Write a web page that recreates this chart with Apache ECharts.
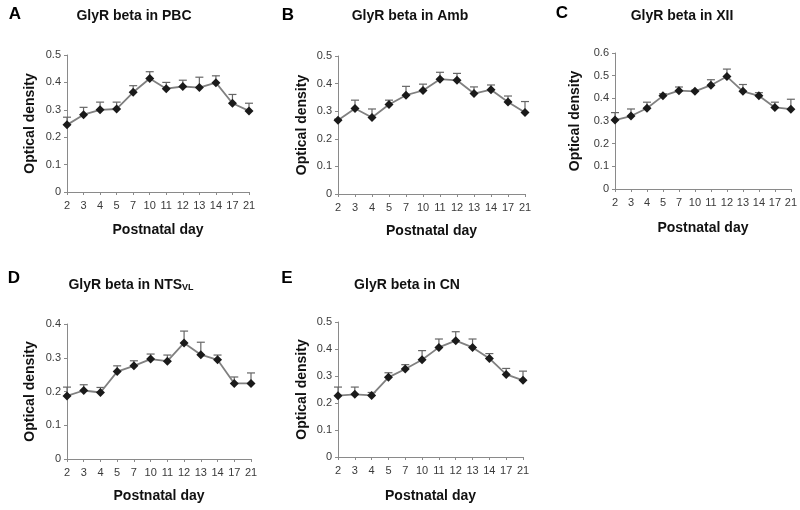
<!DOCTYPE html>
<html>
<head>
<meta charset="utf-8">
<script src="https://cdn.jsdelivr.net/npm/echarts@6/dist/echarts.min.js"></script>
<style>html,body{margin:0;padding:0;background:#fff}#c{width:800px;height:510px}</style>
</head>
<body>
<div id="c"></div>
<script>
var categories = ['2','3','4','5','7','10','11','12','13','14','17','21'];

var pbcValues = [0.245,0.282,0.300,0.303,0.364,0.414,0.377,0.385,0.381,0.399,0.324,0.296];
var pbcErrors = [0.028,0.027,0.028,0.025,0.024,0.025,0.023,0.023,0.038,0.025,0.032,0.028];

var ambValues = [0.267,0.310,0.277,0.324,0.358,0.375,0.416,0.412,0.364,0.378,0.333,0.295];
var ambErrors = [0.004,0.030,0.031,0.016,0.032,0.023,0.025,0.025,0.024,0.017,0.022,0.040];

var xiiValues = [0.304,0.322,0.356,0.411,0.434,0.431,0.458,0.496,0.431,0.411,0.360,0.352];
var xiiErrors = [0.033,0.031,0.027,0.009,0.016,0.005,0.024,0.033,0.030,0.014,0.023,0.044];

var ntsValues = [0.187,0.203,0.197,0.259,0.276,0.296,0.290,0.344,0.309,0.294,0.224,0.224];
var ntsErrors = [0.026,0.017,0.015,0.017,0.015,0.015,0.018,0.035,0.037,0.014,0.019,0.031];

var cnValues = [0.227,0.232,0.228,0.295,0.326,0.360,0.406,0.431,0.406,0.365,0.306,0.284];
var cnErrors = [0.032,0.027,0.011,0.017,0.016,0.034,0.031,0.033,0.031,0.018,0.022,0.034];

var yMaxes = [0.5, 0.5, 0.6, 0.4, 0.5];
var yInterval = 0.1;
var panelLetters = ['A','B','C','D','E'];
var panelTitles = ['GlyR beta in PBC','GlyR beta in Amb','GlyR beta in XII','GlyR beta in NTS','GlyR beta in CN'];
var titleSubscripts = ['', '', '', 'VL', ''];
var xAxisName = 'Postnatal day';
var yAxisName = 'Optical density';

var panels = [
  {v: pbcValues, e: pbcErrors},
  {v: ambValues, e: ambErrors},
  {v: xiiValues, e: xiiErrors},
  {v: ntsValues, e: ntsErrors},
  {v: cnValues, e: cnErrors}
];

// layout
var grids = [
  {left: 67, top: 55, width: 182, height: 137},
  {left: 338, top: 56, width: 187, height: 138},
  {left: 615, top: 53, width: 180, height: 136},
  {left: 67, top: 324, width: 184, height: 135},
  {left: 338, top: 322, width: 185, height: 135}
];
var yNameGaps = [30, 29, 33, 30, 29];
var xNameGaps = [31, 30, 32, 30, 32];
var titlePos = [[134,16],[410,16],[682,16],[131,285],[407,285]];
var letterPos = [[15,14],[288,15],[562,13],[14,278],[287,278]];

var FONT = '"Liberation Sans", Arial, sans-serif';
var axisColor = '#8a8a8a';
var lineColor = '#808080';

var option = {
  animation: false,
  backgroundColor: '#fff',
  textStyle: {fontFamily: FONT},
  grid: [], xAxis: [], yAxis: [], series: [], graphic: []
};

panels.forEach(function (p, i) {
  var g = grids[i];
  option.grid.push({left: g.left, top: g.top, width: g.width, height: g.height, containLabel: false});
  option.xAxis.push({
    type: 'category', gridIndex: i, data: categories, boundaryGap: false,
    name: xAxisName, nameLocation: 'middle', nameGap: xNameGaps[i],
    nameTextStyle: {fontFamily: FONT, fontWeight: 'bold', fontSize: 14, color: '#111'},
    axisLine: {lineStyle: {color: axisColor, width: 1}},
    axisTick: {show: true, length: 3, lineStyle: {color: axisColor}},
    axisLabel: {fontFamily: FONT, fontSize: 11, color: '#3a3a3a', margin: 8, interval: 0},
    splitLine: {show: false}
  });
  option.yAxis.push({
    type: 'value', gridIndex: i, min: 0, max: yMaxes[i], interval: yInterval,
    name: yAxisName, nameLocation: 'middle', nameGap: yNameGaps[i], nameRotate: 90,
    nameTextStyle: {fontFamily: FONT, fontWeight: 'bold', fontSize: 14, color: '#111'},
    axisLine: {show: true, lineStyle: {color: axisColor, width: 1}},
    axisTick: {show: true, length: 3, lineStyle: {color: axisColor}},
    axisLabel: {fontFamily: FONT, fontSize: 11, color: '#3a3a3a', margin: 6,
      formatter: function (v) { return v === 0 ? '0' : (+v.toFixed(1)).toString(); }},
    splitLine: {show: false}
  });
  var errData = p.v.map(function (val, k) { return [k, val, p.e[k]]; });
  option.series.push({
    type: 'custom', xAxisIndex: i, yAxisIndex: i, z: 1,
    data: errData,
    renderItem: function (params, api) {
      var x = api.value(0), y = api.value(1), e = api.value(2);
      var p0 = api.coord([x, y]);
      var p1 = api.coord([x, y + e]);
      var style = {stroke: '#666', lineWidth: 1.2};
      return {type: 'group', children: [
        {type: 'line', shape: {x1: p0[0], y1: p0[1], x2: p1[0], y2: p1[1]}, style: style},
        {type: 'line', shape: {x1: p1[0] - 4, y1: p1[1], x2: p1[0] + 4, y2: p1[1]}, style: style}
      ]};
    }
  });
  option.series.push({
    type: 'line', xAxisIndex: i, yAxisIndex: i, z: 3,
    data: p.v,
    symbol: 'diamond', symbolSize: 9, showSymbol: true,
    lineStyle: {color: lineColor, width: 1.8},
    itemStyle: {color: '#1a1a1a', borderWidth: 0}
  });

  var t = titlePos[i];
  var titleText = panelTitles[i] + (titleSubscripts[i] ? '{s|' + titleSubscripts[i] + '}' : '');
  option.graphic.push({
    type: 'text', silent: true, x: t[0], y: t[1],
    style: {
      text: titleText, x: 0, y: 0,
      align: 'center', verticalAlign: 'middle',
      font: 'bold 14px ' + FONT, fill: '#111',
      rich: {s: {fontSize: 9, fontWeight: 'bold', fontFamily: FONT, fill: '#111', verticalAlign: 'bottom', padding: [6, 0, 0, 0]}}
    }
  });
  var l = letterPos[i];
  option.graphic.push({
    type: 'text', silent: true, x: l[0], y: l[1],
    style: {text: panelLetters[i], x: 0, y: 0, align: 'center', verticalAlign: 'middle',
      font: 'bold 17px ' + FONT, fill: '#000'}
  });
});

var chart = echarts.init(document.getElementById('c'), null, {renderer: 'canvas'});
chart.setOption(option);
</script>
</body>
</html>
